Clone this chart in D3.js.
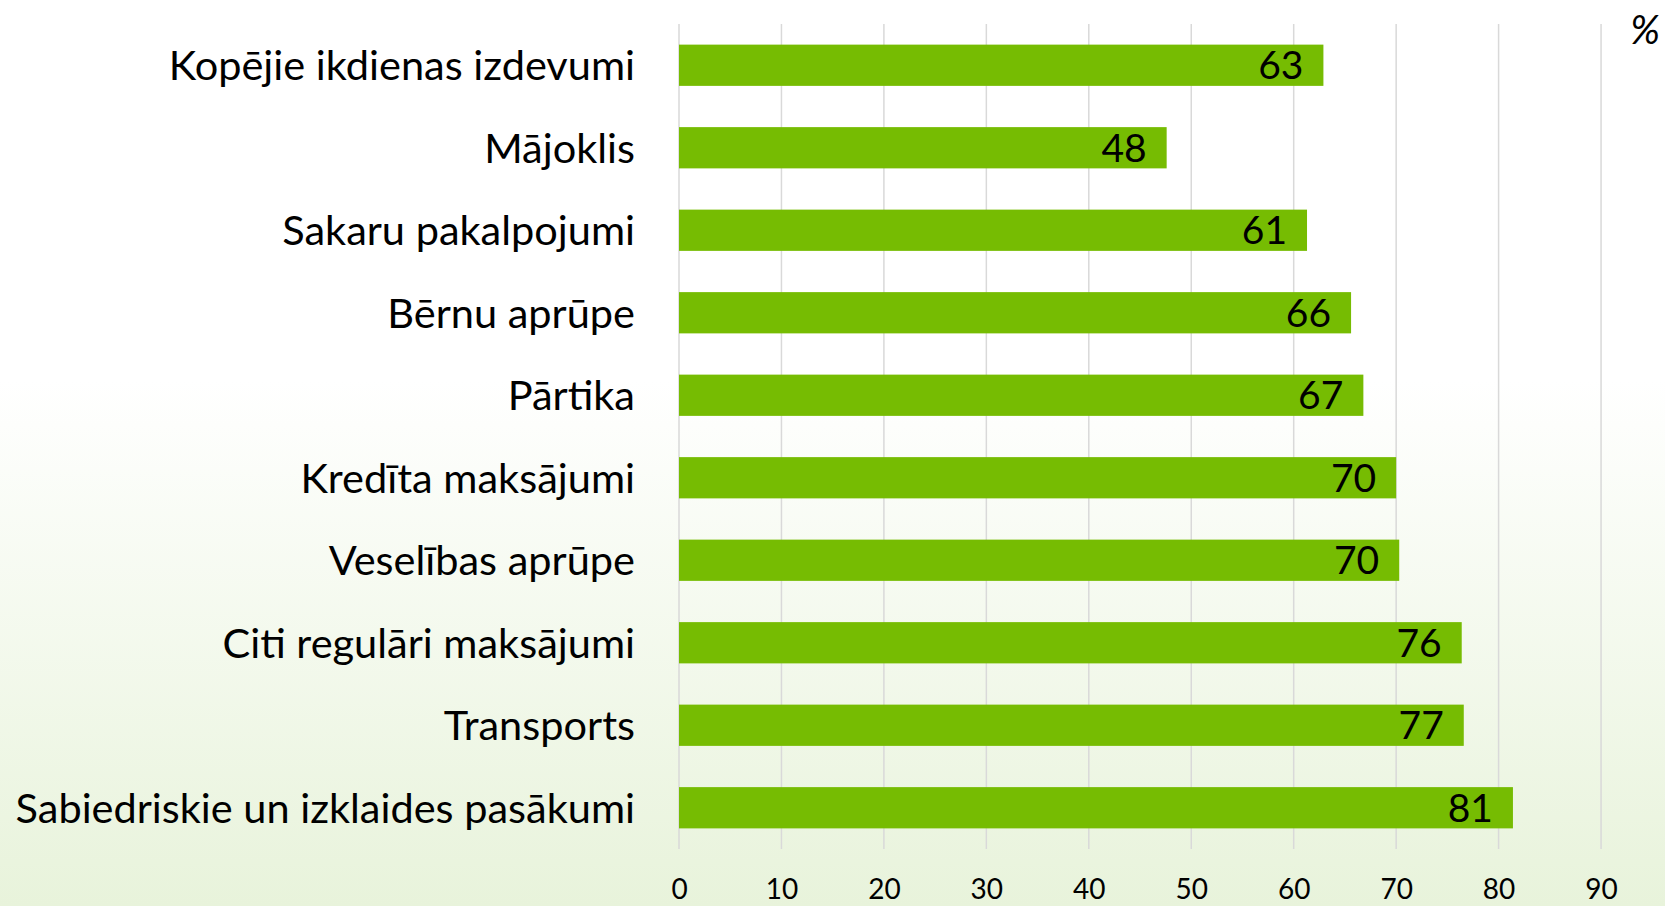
<!DOCTYPE html>
<html>
<head>
<meta charset="utf-8">
<script src="https://cdn.jsdelivr.net/npm/d3@7"></script>
<style>
  html, body { margin: 0; padding: 0; }
  body { width: 1665px; height: 906px; overflow: hidden; }
  #chart { width: 1665px; height: 906px; }
</style>
</head>
<body>
<div id="chart"></div>
<script>
// horizontal bar chart, share in %
const categories = [
    "Kopējie ikdienas izdevumi",
    "Mājoklis",
    "Sakaru pakalpojumi",
    "Bērnu aprūpe",
    "Pārtika",
    "Kredīta maksājumi",
    "Veselības aprūpe",
    "Citi regulāri maksājumi",
    "Transports",
    "Sabiedriskie un izklaides pasākumi"
];
const values = [62.9, 47.6, 61.3, 65.6, 66.8, 70.0, 70.3, 76.4, 76.6, 81.4];
const valueLabels = ["63", "48", "61", "66", "67", "70", "70", "76", "77", "81"];
const xTicks = [0, 10, 20, 30, 40, 50, 60, 70, 80, 90];
const unitLabel = "%";

const W = 1665, H = 906;
const margin = { top: 24, right: 64, bottom: 57, left: 679 };
const width = W - margin.left - margin.right;
const height = H - margin.top - margin.bottom;
const font = "Lato, 'Source Sans Pro', 'Noto Sans', sans-serif";

const svg = d3.select("#chart")
    .append("svg")
    .attr("width", W)
    .attr("height", H);

// background gradient, white to light green
const grad = svg.append("defs").append("linearGradient")
    .attr("id", "bg")
    .attr("x1", 0).attr("y1", 0).attr("x2", 0).attr("y2", 1);
grad.append("stop").attr("offset", "0%").attr("stop-color", "#ffffff");
grad.append("stop").attr("offset", "42%").attr("stop-color", "#ffffff");
grad.append("stop").attr("offset", "100%").attr("stop-color", "#e8f3db");
svg.append("rect").attr("width", W).attr("height", H).attr("fill", "url(#bg)");

const g = svg.append("g")
    .attr("transform", `translate(${margin.left}, ${margin.top})`);

const x = d3.scaleLinear()
    .domain([0, 90])
    .range([0, 10.245 * 90]);

const y = d3.scaleBand()
    .domain(categories)
    .range([0, height])
    .paddingInner(0.5)
    .paddingOuter(0.25);

// gridlines
g.selectAll("line.grid")
    .data(xTicks)
    .enter()
    .append("line")
    .attr("class", "grid")
    .attr("x1", d => x(d))
    .attr("x2", d => x(d))
    .attr("y1", 0)
    .attr("y2", height)
    .attr("stroke", "#d9d9d9")
    .attr("stroke-width", 1.5);

// x axis labels
const xAxis = d3.axisBottom(x)
    .tickValues(xTicks)
    .tickSize(0)
    .tickPadding(0);
const xg = g.append("g")
    .attr("transform", `translate(0, ${height})`)
    .call(xAxis);
xg.select(".domain").remove();
xg.selectAll("text")
    .attr("y", 50)
    .attr("dy", null)
    .style("font-family", font)
    .style("font-size", "28px")
    .attr("fill", "#000");

// category labels
const yAxis = d3.axisLeft(y).tickSize(0).tickPadding(44);
const yg = g.append("g").call(yAxis);
yg.select(".domain").remove();
yg.selectAll("text")
    .attr("dy", "0.36em")
    .style("font-family", font)
    .style("font-size", "41.5px")
    .attr("fill", "#000");

// bars
g.selectAll("rect.bar")
    .data(values)
    .enter()
    .append("rect")
    .attr("class", "bar")
    .attr("x", x(0))
    .attr("y", (d, i) => y(categories[i]))
    .attr("width", d => x(d) - x(0))
    .attr("height", y.bandwidth())
    .attr("fill", "#76bc02");

// value labels inside the bar end
g.selectAll("text.val")
    .data(values)
    .enter()
    .append("text")
    .attr("class", "val")
    .attr("x", d => x(d) - 20)
    .attr("y", (d, i) => y(categories[i]) + y.bandwidth() / 2)
    .attr("dy", "0.36em")
    .attr("text-anchor", "end")
    .style("font-family", font)
    .style("font-size", "39px")
    .text((d, i) => valueLabels[i]);

// unit
svg.append("text")
    .attr("x", 1660)
    .attr("y", 44)
    .attr("text-anchor", "end")
    .style("font-family", font)
    .style("font-size", "40px")
    .style("font-style", "italic")
    .text(unitLabel);
</script>
</body>
</html>
